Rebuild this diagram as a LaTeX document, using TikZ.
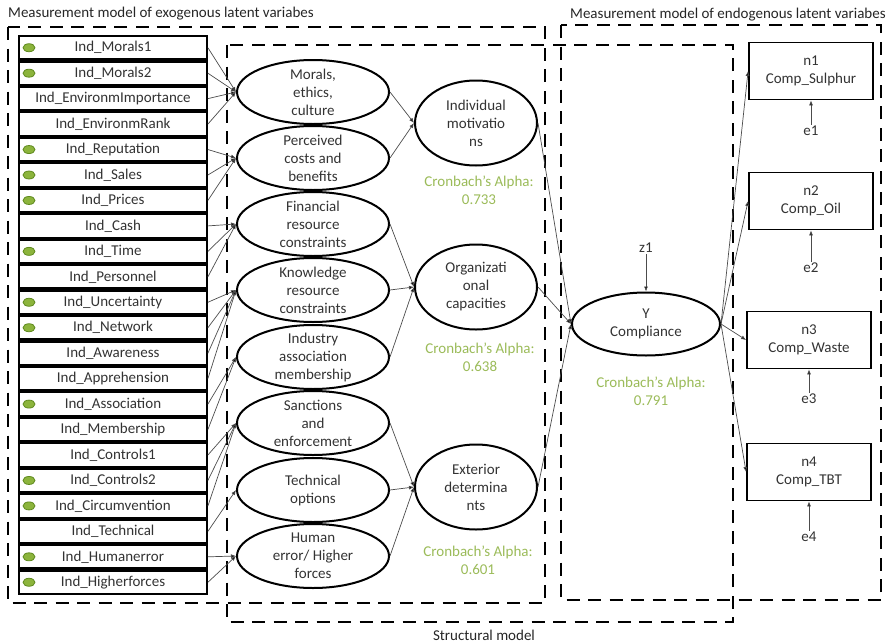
\documentclass[tikz,border=0pt]{standalone}
\usepackage{fontspec}
\setmainfont{Carlito}
\usetikzlibrary{shapes.geometric,arrows.meta}
\definecolor{txtc}{HTML}{333333}
\definecolor{alphac}{HTML}{9BBB59}
\definecolor{dotfill}{HTML}{8CB43C}
\definecolor{dotdraw}{HTML}{5F8A1E}
\begin{document}
\begin{tikzpicture}[x=1pt,y=-1pt,
  every node/.style={font=\fontsize{15}{18}\selectfont, text=txtc},
  grp/.style={draw=black, line width=2.6pt, dash pattern=on 13pt off 8.5pt},
  ind/.style={draw=black, line width=1.8pt, fill=white, minimum width=188pt, minimum height=23pt, inner sep=0pt},
  lat/.style={ellipse, draw=black, line width=2pt, minimum width=152pt, minimum height=64pt, inner sep=0pt},
  latr/.style={ellipse, draw=black, line width=2pt, minimum width=122pt, minimum height=85pt, inner sep=0pt},
  nbox/.style={draw=black, line width=1.8pt, minimum width=124pt, minimum height=57pt, align=center, inner sep=0pt},
  txt/.style={align=center, inner sep=0pt},
  alpha/.style={align=center, inner sep=0pt, text=alphac},
  conn/.style={draw=black!70, line width=0.7pt, -{Latex[length=5pt,width=4pt,fill=black]}},
  gdot/.style={fill=dotfill, draw=dotdraw, line width=0.8pt}
]
\useasboundingbox (0,0) rectangle (887,643);

% group frames
\draw[grp] (8,27) rectangle (545,603);
\draw[grp] (227,45) rectangle (733,622);
\draw[grp] (561,25) rectangle (881,600);
\node[anchor=west, inner sep=0pt, text=black!85] (t1) at (8,14) {Measurement model of exogenous latent variabes};
\node[anchor=west, inner sep=0pt, text=black!85] (t2) at (570,15) {Measurement model of endogenous latent variabes};
\node[inner sep=0pt, text=black!85] (t3) at (484,635) {Structural model};

% indicators
\fill[black] (18.1,35.2) rectangle (207.9,594.8);
\def\p{25.4545}
\node[ind] (i0) at (113,{35+\p*0.5}) {Ind\_Morals1};
\node[ind] (i1) at (113,{35+\p*1.5}) {Ind\_Morals2};
\node[ind] (i2) at (113,{35+\p*2.5}) {Ind\_EnvironmImportance};
\node[ind] (i3) at (113,{35+\p*3.5}) {Ind\_EnvironmRank};
\node[ind] (i4) at (113,{35+\p*4.5}) {Ind\_Reputation};
\node[ind] (i5) at (113,{35+\p*5.5}) {Ind\_Sales};
\node[ind] (i6) at (113,{35+\p*6.5}) {Ind\_Prices};
\node[ind] (i7) at (113,{35+\p*7.5}) {Ind\_Cash};
\node[ind] (i8) at (113,{35+\p*8.5}) {Ind\_Time};
\node[ind] (i9) at (113,{35+\p*9.5}) {Ind\_Personnel};
\node[ind] (i10) at (113,{35+\p*10.5}) {Ind\_Uncertainty};
\node[ind] (i11) at (113,{35+\p*11.5}) {Ind\_Network};
\node[ind] (i12) at (113,{35+\p*12.5}) {Ind\_Awareness};
\node[ind] (i13) at (113,{35+\p*13.5}) {Ind\_Apprehension};
\node[ind] (i14) at (113,{35+\p*14.5}) {Ind\_Association};
\node[ind] (i15) at (113,{35+\p*15.5}) {Ind\_Membership};
\node[ind] (i16) at (113,{35+\p*16.5}) {Ind\_Controls1};
\node[ind] (i17) at (113,{35+\p*17.5}) {Ind\_Controls2};
\node[ind] (i18) at (113,{35+\p*18.5}) {Ind\_Circumvention};
\node[ind] (i19) at (113,{35+\p*19.5}) {Ind\_Technical};
\node[ind] (i20) at (113,{35+\p*20.5}) {Ind\_Humanerror};
\node[ind] (i21) at (113,{35+\p*21.5}) {Ind\_Higherforces};
\foreach \k in {0,1,4,5,6,8,10,11,14,17,18,20,21}{
  \draw[gdot] (29,{35+\p*(\k+0.5)}) ellipse [x radius=6, y radius=4];
}

% first-order latent variables
\node[lat, label={[txt]center:Morals,\\ethics,\\culture}] (L1) at (313,92) {};
\node[lat, label={[txt]center:Perceived\\costs and\\benefits}] (L2) at (313,158) {};
\node[lat, label={[txt]center:Financial\\resource\\constraints}] (L3) at (313,224) {};
\node[lat, label={[txt]center:Knowledge\\resource\\constraints}] (L4) at (313,290) {};
\node[lat, label={[txt]center:Industry\\association\\membership}] (L5) at (313,357) {};
\node[lat, label={[txt]center:Sanctions\\and\\enforcement}] (L6) at (313,423) {};
\node[lat, label={[txt]center:Technical\\options}] (L7) at (313,490) {};
\node[lat, label={[txt]center:Human\\error/ Higher\\forces}] (L8) at (313,556) {};

% second-order
\node[latr, label={[txt]center:Individual\\motivatio\\ns}] (R1) at (476,123) {};
\node[latr, label={[txt]center:Organizati\\onal\\capacities}] (R2) at (476,287) {};
\node[latr, label={[txt]center:Exterior\\determina\\nts}] (R3) at (476,487) {};
\node[alpha] (a1) at (479,190.5) {Cronbach’s Alpha:\\0.733};
\node[alpha] (a2) at (480,357.5) {Cronbach’s Alpha:\\0.638};
\node[alpha] (a3) at (478,560) {Cronbach’s Alpha:\\0.601};

% Y
\node[ellipse, draw=black, line width=2pt, minimum width=148pt, minimum height=63pt, inner sep=0pt,
      label={[txt]center:Y\\Compliance}] (Y) at (646,324) {};
\node[alpha] (a4) at (651,391) {Cronbach’s Alpha:\\0.791};
\node[inner sep=1pt] (z1) at (646,248) {z1};

% endogenous indicators
\node[nbox] (n1) at (811,71) {n1\\Comp\_Sulphur};
\node[nbox] (n2) at (811,201) {n2\\Comp\_Oil};
\node[nbox] (n3) at (809,340) {n3\\Comp\_Waste};
\node[nbox] (n4) at (809,472) {n4\\Comp\_TBT};
\node[inner sep=1pt] (e1) at (811,131) {e1};
\node[inner sep=1pt] (e2) at (811,268) {e2};
\node[inner sep=1pt] (e3) at (809,399) {e3};
\node[inner sep=1pt] (e4) at (809,537) {e4};

% connectors: indicators -> first-order
\foreach \s in {i0,i1,i2,i3}{\draw[conn] (\s.east) -- (L1.west);}
\foreach \s in {i4,i5,i6}{\draw[conn] (\s.east) -- (L2.west);}
\foreach \s in {i7,i8,i9}{\draw[conn] (\s.east) -- (L3.west);}
\foreach \s in {i10,i11,i12,i13}{\draw[conn] (\s.east) -- (L4.west);}
\foreach \s in {i14,i15}{\draw[conn] (\s.east) -- (L5.west);}
\foreach \s in {i16,i17,i18}{\draw[conn] (\s.east) -- (L6.west);}
\foreach \s in {i19}{\draw[conn] (\s.east) -- (L7.west);}
\foreach \s in {i20,i21}{\draw[conn] (\s.east) -- (L8.west);}

% first-order -> second-order
\foreach \s in {L1,L2}{\draw[conn] (\s.east) -- (R1.west);}
\foreach \s in {L3,L4,L5}{\draw[conn] (\s.east) -- (R2.west);}
\foreach \s in {L6,L7,L8}{\draw[conn] (\s.east) -- (R3.west);}

% second-order -> Y
\foreach \s in {R1,R2,R3}{\draw[conn] (\s.east) -- (Y.west);}

% Y -> n, e -> n, z -> Y
\foreach \t in {n1,n2,n3,n4}{\draw[conn] (Y.east) -- (\t.west);}
\draw[conn] (e1.north) -- (n1.south);
\draw[conn] (e2.north) -- (n2.south);
\draw[conn] (e3.north) -- (n3.south);
\draw[conn] (e4.north) -- (n4.south);
\draw[conn] (z1.south) -- (Y.north);
\end{tikzpicture}
\end{document}
